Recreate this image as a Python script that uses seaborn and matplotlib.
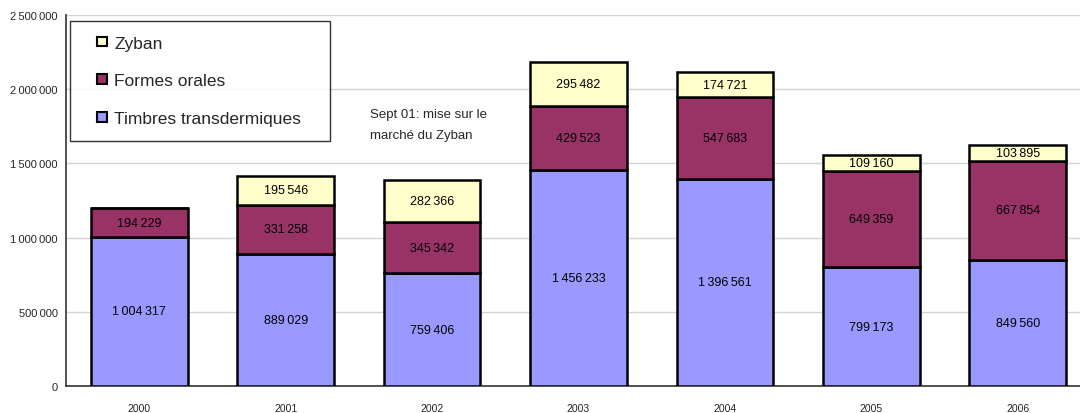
import seaborn as sns
import matplotlib.pyplot as plt
import pandas as pd
from matplotlib.patches import Patch, Rectangle
from matplotlib.legend_handler import HandlerPatch

years = ["2000", "2001", "2002", "2003", "2004", "2005", "2006"]
timbres = [1004317, 889029, 759406, 1456233, 1396561, 799173, 849560]
formes_orales = [194229, 331258, 345342, 429523, 547683, 649359, 667854]
zyban = [0, 195546, 282366, 295482, 174721, 109160, 103895]

series = ["Timbres transdermiques", "Formes orales", "Zyban"]
colors = {"Timbres transdermiques": "#9999FF", "Formes orales": "#993366", "Zyban": "#FFFFCC"}

df = pd.DataFrame({"annee": years, "Timbres transdermiques": timbres,
                   "Formes orales": formes_orales, "Zyban": zyban})

sns.set_style("white")
plt.rcParams['font.family'] = ['Liberation Sans', 'DejaVu Sans']

def fmt(v):
    return f"{int(v):,}".replace(",", "\u2009")

fig = plt.figure(figsize=(10.8, 4.14), dpi=100)
ax = fig.add_axes([66 / 1080, 1 - 387 / 414, 1025 / 1080, 371 / 414])

# barres empilées
bottom = pd.Series([0] * len(df))
for s in series:
    sns.barplot(data=df, x="annee", y=s, bottom=bottom, color=colors[s],
                edgecolor="black", linewidth=1.8, width=0.66, ax=ax,
                saturation=1, zorder=3)
    for i, (v, b) in enumerate(zip(df[s], bottom)):
        if v > 0:
            ax.text(i, b + v / 2, fmt(v), ha="center", va="center",
                    fontsize=9, color="black", zorder=4)
    bottom = bottom + df[s]

ax.set_ylim(0, 2500000)
ax.set_xlim(-0.5, 6.5)
ax.set_yticks(range(0, 2500001, 500000))
ax.set_yticklabels([fmt(v) for v in range(0, 2500001, 500000)], fontsize=8)
ax.set_xticks(range(len(years)))
ax.set_xticklabels(years, fontsize=7.5)
ax.set_xticks([i + 0.5 for i in range(-1, len(years))], minor=True)
ax.tick_params(axis="x", which="major", length=0, pad=12)
ax.tick_params(axis="x", which="minor", length=4, width=1, color="#333333", direction="out")
ax.tick_params(axis="y", length=4, width=1, color="#333333", direction="out", pad=2)
ax.set_xlabel("")
ax.set_ylabel("")

ax.yaxis.grid(True, color="#d4d4d4", linewidth=1)
ax.set_axisbelow(True)
for side in ["top", "right"]:
    ax.spines[side].set_visible(False)
for side in ["left", "bottom"]:
    ax.spines[side].set_color("#333333")
    ax.spines[side].set_linewidth(1.2)

ax.text(1.575, 1765000, "Sept 01: mise sur le\nmarché du Zyban", fontsize=9.5,
        ha="left", va="center", linespacing=2.0)

# légende : petit carré collé au texte
def small_square(legend, orig_handle, xdescent, ydescent, width, height, fontsize):
    sq = 0.55 * fontsize
    return Rectangle((width - sq - xdescent, (height - sq) / 2 - ydescent), sq, sq)

handles = [Patch(facecolor=colors[s], edgecolor="black", linewidth=1.5, label=s)
           for s in reversed(series)]
top = 1 - 22 / 414
leg = fig.legend(handles=handles, loc="upper left",
                 bbox_to_anchor=(70 / 1080, top - 0.4, 260 / 1080, 0.4),
                 bbox_transform=fig.transFigure, mode="expand", borderaxespad=0,
                 fontsize=12.5, labelspacing=1.3, handlelength=1.27, handleheight=0.6,
                 handletextpad=0.42, borderpad=0.85, fancybox=False, frameon=True,
                 handler_map={Patch: HandlerPatch(patch_func=small_square)})
leg.get_frame().set_edgecolor("black")
leg.get_frame().set_linewidth(1)

plt.savefig("out.png", dpi=100)
plt.close()
